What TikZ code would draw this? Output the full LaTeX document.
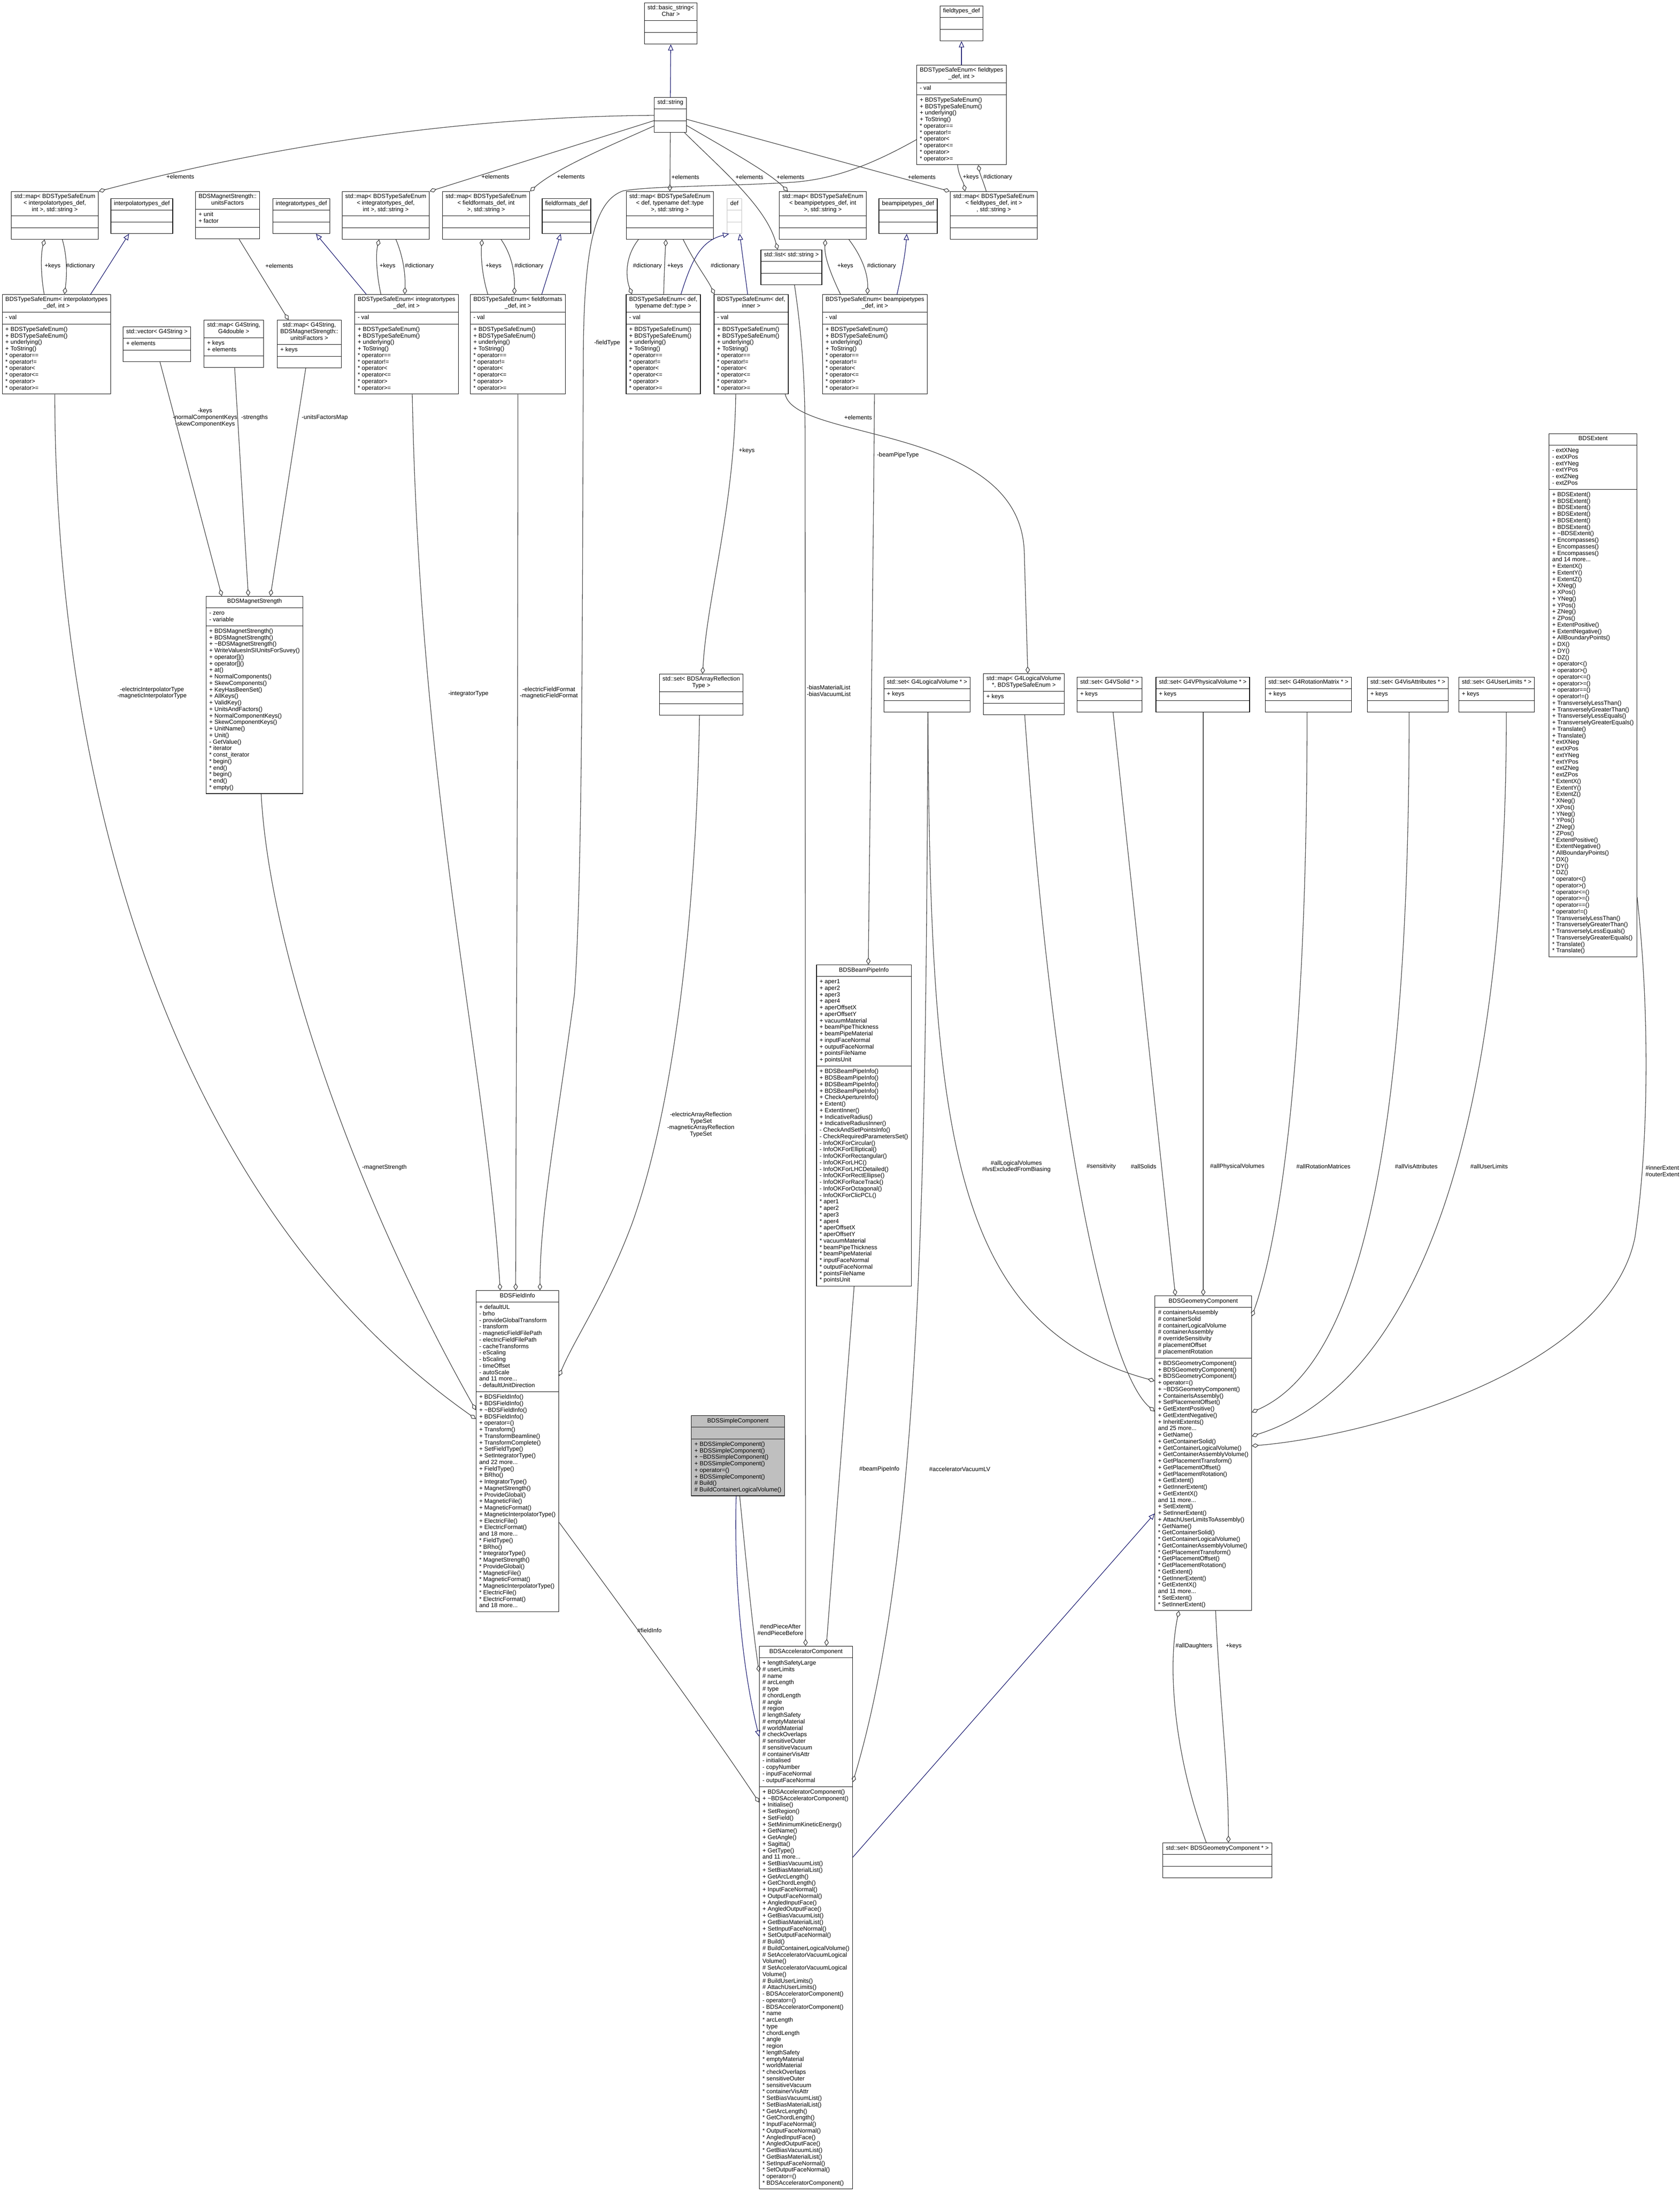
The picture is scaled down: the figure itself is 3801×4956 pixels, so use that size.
\documentclass[tikz,border=0pt]{standalone}
\usepackage{fontspec}
\setmainfont{Liberation Sans}
\usetikzlibrary{arrows.meta}
\definecolor{edgec}{HTML}{404040}
\definecolor{inhc}{HTML}{191970}
\definecolor{boxgrey}{HTML}{BFBFBF}
\newcommand{\clsf}{\fontsize{13.5}{14.75}\selectfont}
\newcommand{\ctab}[1]{\begin{tabular}{@{}c@{}}#1\strut\end{tabular}}
\newcommand{\ltab}[1]{\begin{tabular}{@{}l@{}}#1\strut\end{tabular}}
\newcommand{\rulecol}{black}
\newcommand{\secrule}{\noalign{\vskip5pt{\color{\rulecol}\hrule height 1.3pt}\vskip5pt}}
\newcommand{\mkclass}[6][]{\node[clsbox,#1] (#2) at (#3) {\begin{tabular}{@{\hspace{7pt}}l@{\hspace{7pt}}}\noalign{\vskip5pt}\multicolumn{1}{@{\hspace{7pt}}c@{\hspace{7pt}}}{\ctab{#4}}\\\secrule\ltab{#5}\\\secrule\ltab{#6}\\\noalign{\vskip5pt}\end{tabular}};}
\newcommand{\tsemeth}{+ BDSTypeSafeEnum()\\+ BDSTypeSafeEnum()\\+ underlying()\\+ ToString()\\{*} operator==\\{*} operator!=\\{*} operator<\\{*} operator<=\\{*} operator>\\{*} operator>=}
\tikzset{
  clsbox/.style={rectangle, draw=black, line width=1.3pt, fill=white, inner sep=0pt,
    anchor=north, font=\clsf},
  edg/.style={draw=edgec, line width=1.3pt},
  agg/.style={edg, -{Diamond[open, length=16pt, width=10pt]}},
  inh/.style={draw=inhc, line width=1.3pt, -{Triangle[open, length=14pt, width=12pt]}},
  lbl/.style={font=\clsf, inner sep=0pt, align=center},
  lbll/.style={font=\clsf, inner sep=0pt, align=left, anchor=west},
}
\begin{document}
\begin{tikzpicture}[x=1pt,y=-1pt]
\fill[white] (0,0) rectangle (3801,4956);
\useasboundingbox (0,0) rectangle (3801,4956);

% ---------- classes ----------
\mkclass{bstring}{1518,6}{std::basic\_string<\\ Char >}{}{}
\mkclass{ftdef}{2176,13}{fieldtypes\_def}{}{}
\mkclass{string}{1517,220}{std::string}{}{}
\mkclass{tseft}{2176,147}{BDSTypeSafeEnum< fieldtypes\\\_def, int >}{- val}{\tsemeth}

\mkclass{mapinterp}{124,433}{std::map< BDSTypeSafeEnum\\< interpolatortypes\_def,\\ int >, std::string >}{}{}
\mkclass{interpdef}{321,449}{interpolatortypes\_def}{}{}
\mkclass{uf}{515,433}{BDSMagnetStrength::\\unitsFactors}{+ unit\\+ factor}{}
\mkclass{integdef}{682,449}{integratortypes\_def}{}{}
\mkclass{mapinteg}{873,433}{std::map< BDSTypeSafeEnum\\< integratortypes\_def,\\ int >, std::string >}{}{}
\mkclass{mapff}{1100,433}{std::map< BDSTypeSafeEnum\\< fieldformats\_def, int\\ >, std::string >}{}{}
\mkclass{ffdef}{1282,449}{fieldformats\_def}{}{}
\mkclass{mapdef}{1516,433}{std::map< BDSTypeSafeEnum\\< def, typename def::type\\ >, std::string >}{}{}
\renewcommand{\rulecol}{boxgrey}
\mkclass[draw=boxgrey]{def}{1662,449}{def}{}{}
\renewcommand{\rulecol}{black}
\mkclass{mapbp}{1862,433}{std::map< BDSTypeSafeEnum\\< beampipetypes\_def, int\\ >, std::string >}{}{}
\mkclass{bpdef}{2055,449}{beampipetypes\_def}{}{}
\mkclass{mapft}{2249,433}{std::map< BDSTypeSafeEnum\\< fieldtypes\_def, int >\\, std::string >}{}{}
\mkclass{list}{1791,565}{std::list< std::string >}{}{}

\mkclass{tseinterp}{128,666}{BDSTypeSafeEnum< interpolatortypes\\\_def, int >}{- val}{\tsemeth}
\mkclass{vec}{355,739}{std::vector< G4String >}{+ elements}{}
\mkclass{mapgd}{529,724}{std::map< G4String,\\G4double >}{+ keys\\+ elements}{}
\mkclass{mapuf}{700,724}{std::map< G4String,\\BDSMagnetStrength::\\unitsFactors >}{+ keys}{}
\mkclass{tseinteg}{920,666}{BDSTypeSafeEnum< integratortypes\\\_def, int >}{- val}{\tsemeth}
\mkclass{tseff}{1172,666}{BDSTypeSafeEnum< fieldformats\\\_def, int >}{- val}{\tsemeth}
\mkclass{tsedt}{1501,666}{BDSTypeSafeEnum< def,\\typename def::type >}{- val}{\tsemeth}
\mkclass{tsedi}{1700,666}{BDSTypeSafeEnum< def,\\inner >}{- val}{\tsemeth}
\mkclass{tsebp}{1980,666}{BDSTypeSafeEnum< beampipetypes\\\_def, int >}{- val}{\tsemeth}

\mkclass{mag}{576,1349}{BDSMagnetStrength}{- zero\\- variable}{+ BDSMagnetStrength()\\+ BDSMagnetStrength()\\+ \textasciitilde BDSMagnetStrength()\\+ WriteValuesInSIUnitsForSuvey()\\+ operator[]()\\+ operator[]()\\+ at()\\+ NormalComponents()\\+ SkewComponents()\\+ KeyHasBeenSet()\\+ AllKeys()\\+ ValidKey()\\+ UnitsAndFactors()\\+ NormalComponentKeys()\\+ SkewComponentKeys()\\+ UnitName()\\+ Unit()\\- GetValue()\\{*} iterator\\{*} const\_iterator\\{*} begin()\\{*} end()\\{*} begin()\\{*} end()\\{*} empty()}

\mkclass{setarr}{1587,1525}{std::set< BDSArrayReflection\\Type >}{}{}
\mkclass{setlv}{2098,1532}{std::set< G4LogicalVolume * >}{+ keys}{}
\mkclass{maplv}{2317,1524}{std::map< G4LogicalVolume\\{*}, BDSTypeSafeEnum >}{+ keys}{}
\mkclass{setsolid}{2511,1532}{std::set< G4VSolid * >}{+ keys}{}
\mkclass{setpv}{2722,1532}{std::set< G4VPhysicalVolume * >}{+ keys}{}
\mkclass{setrot}{2961,1532}{std::set< G4RotationMatrix * >}{+ keys}{}
\mkclass{setvis}{3186,1532}{std::set< G4VisAttributes * >}{+ keys}{}
\mkclass{setul}{3387,1532}{std::set< G4UserLimits * >}{+ keys}{}

\mkclass{extent}{3605,981}{BDSExtent}{- extXNeg\\- extXPos\\- extYNeg\\- extYPos\\- extZNeg\\- extZPos}{+ BDSExtent()\\+ BDSExtent()\\+ BDSExtent()\\+ BDSExtent()\\+ BDSExtent()\\+ BDSExtent()\\+ \textasciitilde BDSExtent()\\+ Encompasses()\\+ Encompasses()\\+ Encompasses()\\and 14 more...\\+ ExtentX()\\+ ExtentY()\\+ ExtentZ()\\+ XNeg()\\+ XPos()\\+ YNeg()\\+ YPos()\\+ ZNeg()\\+ ZPos()\\+ ExtentPositive()\\+ ExtentNegative()\\+ AllBoundaryPoints()\\+ DX()\\+ DY()\\+ DZ()\\+ operator<()\\+ operator>()\\+ operator<=()\\+ operator>=()\\+ operator==()\\+ operator!=()\\+ TransverselyLessThan()\\+ TransverselyGreaterThan()\\+ TransverselyLessEquals()\\+ TransverselyGreaterEquals()\\+ Translate()\\+ Translate()\\{*} extXNeg\\{*} extXPos\\{*} extYNeg\\{*} extYPos\\{*} extZNeg\\{*} extZPos\\{*} ExtentX()\\{*} ExtentY()\\{*} ExtentZ()\\{*} XNeg()\\{*} XPos()\\{*} YNeg()\\{*} YPos()\\{*} ZNeg()\\{*} ZPos()\\{*} ExtentPositive()\\{*} ExtentNegative()\\{*} AllBoundaryPoints()\\{*} DX()\\{*} DY()\\{*} DZ()\\{*} operator<()\\{*} operator>()\\{*} operator<=()\\{*} operator>=()\\{*} operator==()\\{*} operator!=()\\{*} TransverselyLessThan()\\{*} TransverselyGreaterThan()\\{*} TransverselyLessEquals()\\{*} TransverselyGreaterEquals()\\{*} Translate()\\{*} Translate()}

\mkclass{bpinfo}{1955,2183}{BDSBeamPipeInfo}{+ aper1\\+ aper2\\+ aper3\\+ aper4\\+ aperOffsetX\\+ aperOffsetY\\+ vacuumMaterial\\+ beamPipeThickness\\+ beamPipeMaterial\\+ inputFaceNormal\\+ outputFaceNormal\\+ pointsFileName\\+ pointsUnit}{+ BDSBeamPipeInfo()\\+ BDSBeamPipeInfo()\\+ BDSBeamPipeInfo()\\+ BDSBeamPipeInfo()\\+ CheckApertureInfo()\\+ Extent()\\+ ExtentInner()\\+ IndicativeRadius()\\+ IndicativeRadiusInner()\\- CheckAndSetPointsInfo()\\- CheckRequiredParametersSet()\\- InfoOKForCircular()\\- InfoOKForElliptical()\\- InfoOKForRectangular()\\- InfoOKForLHC()\\- InfoOKForLHCDetailed()\\- InfoOKForRectEllipse()\\- InfoOKForRaceTrack()\\- InfoOKForOctagonal()\\- InfoOKForClicPCL()\\{*} aper1\\{*} aper2\\{*} aper3\\{*} aper4\\{*} aperOffsetX\\{*} aperOffsetY\\{*} vacuumMaterial\\{*} beamPipeThickness\\{*} beamPipeMaterial\\{*} inputFaceNormal\\{*} outputFaceNormal\\{*} pointsFileName\\{*} pointsUnit}

\mkclass{fieldinfo}{1171,2920}{BDSFieldInfo}{+ defaultUL\\- brho\\- provideGlobalTransform\\- transform\\- magneticFieldFilePath\\- electricFieldFilePath\\- cacheTransforms\\- eScaling\\- bScaling\\- timeOffset\\- autoScale\\and 11 more...\\- defaultUnitDirection}{+ BDSFieldInfo()\\+ BDSFieldInfo()\\+ \textasciitilde BDSFieldInfo()\\+ BDSFieldInfo()\\+ operator=()\\+ Transform()\\+ TransformBeamline()\\+ TransformComplete()\\+ SetFieldType()\\+ SetIntegratorType()\\and 22 more...\\+ FieldType()\\+ BRho()\\+ IntegratorType()\\+ MagnetStrength()\\+ ProvideGlobal()\\+ MagneticFile()\\+ MagneticFormat()\\+ MagneticInterpolatorType()\\+ ElectricFile()\\+ ElectricFormat()\\and 18 more...\\{*} FieldType()\\{*} BRho()\\{*} IntegratorType()\\{*} MagnetStrength()\\{*} ProvideGlobal()\\{*} MagneticFile()\\{*} MagneticFormat()\\{*} MagneticInterpolatorType()\\{*} ElectricFile()\\{*} ElectricFormat()\\and 18 more...}

\mkclass[fill=boxgrey]{simple}{1670,3203}{BDSSimpleComponent}{}{+ BDSSimpleComponent()\\+ BDSSimpleComponent()\\+ \textasciitilde BDSSimpleComponent()\\+ BDSSimpleComponent()\\+ operator=()\\+ BDSSimpleComponent()\\\# Build()\\\# BuildContainerLogicalVolume()}

\mkclass{geom}{2723,2932}{BDSGeometryComponent}{\# containerIsAssembly\\\# containerSolid\\\# containerLogicalVolume\\\# containerAssembly\\\# overrideSensitivity\\\# placementOffset\\\# placementRotation}{+ BDSGeometryComponent()\\+ BDSGeometryComponent()\\+ BDSGeometryComponent()\\+ operator=()\\+ \textasciitilde BDSGeometryComponent()\\+ ContainerIsAssembly()\\+ SetPlacementOffset()\\+ GetExtentPositive()\\+ GetExtentNegative()\\+ InheritExtents()\\and 25 more...\\+ GetName()\\+ GetContainerSolid()\\+ GetContainerLogicalVolume()\\+ GetContainerAssemblyVolume()\\+ GetPlacementTransform()\\+ GetPlacementOffset()\\+ GetPlacementRotation()\\+ GetExtent()\\+ GetInnerExtent()\\+ GetExtentX()\\and 11 more...\\+ SetExtent()\\+ SetInnerExtent()\\+ AttachUserLimitsToAssembly()\\{*} GetName()\\{*} GetContainerSolid()\\{*} GetContainerLogicalVolume()\\{*} GetContainerAssemblyVolume()\\{*} GetPlacementTransform()\\{*} GetPlacementOffset()\\{*} GetPlacementRotation()\\{*} GetExtent()\\{*} GetInnerExtent()\\{*} GetExtentX()\\and 11 more...\\{*} SetExtent()\\{*} SetInnerExtent()}

\mkclass{accel}{1824,3725}{BDSAcceleratorComponent}{+ lengthSafetyLarge\\\# userLimits\\\# name\\\# arcLength\\\# type\\\# chordLength\\\# angle\\\# region\\\# lengthSafety\\\# emptyMaterial\\\# worldMaterial\\\# checkOverlaps\\\# sensitiveOuter\\\# sensitiveVacuum\\\# containerVisAttr\\- initialised\\- copyNumber\\- inputFaceNormal\\- outputFaceNormal}{+ BDSAcceleratorComponent()\\+ \textasciitilde BDSAcceleratorComponent()\\+ Initialise()\\+ SetRegion()\\+ SetField()\\+ SetMinimumKineticEnergy()\\+ GetName()\\+ GetAngle()\\+ Sagitta()\\+ GetType()\\and 11 more...\\+ SetBiasVacuumList()\\+ SetBiasMaterialList()\\+ GetArcLength()\\+ GetChordLength()\\+ InputFaceNormal()\\+ OutputFaceNormal()\\+ AngledInputFace()\\+ AngledOutputFace()\\+ GetBiasVacuumList()\\+ GetBiasMaterialList()\\+ SetInputFaceNormal()\\+ SetOutputFaceNormal()\\\# Build()\\\# BuildContainerLogicalVolume()\\\# SetAcceleratorVacuumLogical\\Volume()\\\# SetAcceleratorVacuumLogical\\Volume()\\\# BuildUserLimits()\\\# AttachUserLimits()\\- BDSAcceleratorComponent()\\- operator=()\\- BDSAcceleratorComponent()\\{*} name\\{*} arcLength\\{*} type\\{*} chordLength\\{*} angle\\{*} region\\{*} lengthSafety\\{*} emptyMaterial\\{*} worldMaterial\\{*} checkOverlaps\\{*} sensitiveOuter\\{*} sensitiveVacuum\\{*} containerVisAttr\\{*} SetBiasVacuumList()\\{*} SetBiasMaterialList()\\{*} GetArcLength()\\{*} GetChordLength()\\{*} InputFaceNormal()\\{*} OutputFaceNormal()\\{*} AngledInputFace()\\{*} AngledOutputFace()\\{*} GetBiasVacuumList()\\{*} GetBiasMaterialList()\\{*} SetInputFaceNormal()\\{*} SetOutputFaceNormal()\\{*} operator=()\\{*} BDSAcceleratorComponent()}

\mkclass{setgeom}{2755,4170}{std::set< BDSGeometryComponent * >}{}{}

% ---------- inheritance ----------
\draw[inh] (string.north) -- (bstring.south);
\draw[inh] (tseft.north) -- (ftdef.south);
\draw[inh] (205,0 |- tseinterp.north) -- (292,0 |- interpdef.south);
\draw[inh] (829,0 |- tseinteg.north) -- (715,0 |- integdef.south);
\draw[inh] (1226,0 |- tseff.north) -- (1269,0 |- ffdef.south);
\draw[inh] (1541,0 |- tsedt.north) .. controls (1565,590) and (1585,545) .. (1650,0 |- def.south);
\draw[inh] (1692,0 |- tsedi.north) -- (1674,0 |- def.south);
\draw[inh] (2030,0 |- tsebp.north) .. controls (2045,600) and (2050,560) .. (2052,0 |- bpdef.south);
\draw[inh] (1666,0 |- simple.south) .. controls (1660,3600) and (1685,3800) .. (accel.west |- 0,3930);
\draw[inh] (accel.east |- 0,4203) -- (geom.west |- 0,3425);

% ---------- std::string usage ----------
\draw[agg] (string.west |- 0,261) .. controls (950,265) and (500,360) .. (mapinterp.north east);
\draw[agg] (string.west |- 0,273) -- (mapinteg.north east);
\draw[agg] (string.west |- 0,285) .. controls (1380,330) and (1260,380) .. (mapff.north east);
\draw[agg] (string.south) -- (mapdef.north);
\draw[agg] (1549,0 |- string.south) .. controls (1640,390) and (1735,470) .. (1760,0 |- list.north);
\draw[agg] (string.east |- 0,284) .. controls (1650,340) and (1740,390) .. (1783,0 |- mapbp.north);
\draw[agg] (string.east |- 0,270) -- (mapft.north west);

% ---------- keys / dictionary ----------
\draw[agg] (100,0 |- tseinterp.north) .. controls (92,620) and (92,575) .. (101,0 |- mapinterp.south);
\draw[agg] (141,0 |- mapinterp.south) .. controls (152,580) and (152,620) .. (146,0 |- tseinterp.north);
\draw[agg] (862,0 |- tseinteg.north) .. controls (852,620) and (850,575) .. (858,0 |- mapinteg.south);
\draw[agg] (896,0 |- mapinteg.south) .. controls (912,580) and (918,620) .. (916,0 |- tseinteg.north);
\draw[agg] (1104,0 |- tseff.north) .. controls (1090,620) and (1088,575) .. (1091,0 |- mapff.south);
\draw[agg] (1134,0 |- mapff.south) .. controls (1160,580) and (1165,620) .. (1164,0 |- tseff.north);
\draw[agg] (1502,0 |- tsedt.north) .. controls (1503,620) and (1505,575) .. (1507,0 |- mapdef.south);
\draw[agg] (1445,0 |- mapdef.south) .. controls (1415,580) and (1415,625) .. (1430,0 |- tsedt.north);
\draw[agg] (1546,0 |- mapdef.south) .. controls (1575,600) and (1600,630) .. (1617,0 |- tsedi.north);
\draw[agg] (1902,0 |- tsebp.north) .. controls (1880,620) and (1865,580) .. (1868,0 |- mapbp.south);
\draw[agg] (1921,0 |- mapbp.south) .. controls (1950,580) and (1965,620) .. (1963,0 |- tsebp.north);
\draw[agg] (2167,0 |- tseft.south) .. controls (2170,400) and (2180,410) .. (2184,0 |- mapft.north);
\draw[agg] (2232,0 |- mapft.north) .. controls (2225,410) and (2218,395) .. (2214,0 |- tseft.south);
\draw[agg] (541,0 |- uf.south) -- (653,0 |- mapuf.north);

% ---------- magnet strength ----------
\draw[agg] (362,0 |- vec.south) -- (502,0 |- mag.north);
\draw[agg] (531,0 |- mapgd.south) -- (562,0 |- mag.north);
\draw[agg] (692,0 |- mapuf.south) -- (612,0 |- mag.north);

% ---------- field info ----------
\draw[agg] (124,0 |- tseinterp.south) .. controls (125,1700) and (350,2700) .. (fieldinfo.west |- 0,3211);
\draw[agg] (591,0 |- mag.south) .. controls (610,2150) and (800,2700) .. (fieldinfo.west |- 0,3191);
\draw[agg] (933,0 |- tseinteg.south) .. controls (950,1800) and (1100,2400) .. (1132,0 |- fieldinfo.north);
\draw[agg] (1172,0 |- tseff.south) .. controls (1172,1800) and (1168,2400) .. (1167,0 |- fieldinfo.north);
\draw[agg] (tseft.west |- 0,316) .. controls (1960,380) and (1880,405) .. (1800,412) .. controls (1650,422) and (1480,420) .. (1410,432) .. controls (1345,455) and (1322,560) .. (1320,800) .. controls (1318,1400) and (1318,2000) .. (1300,2250) .. controls (1260,2550) and (1222,2750) .. (1222,0 |- fieldinfo.north);
\draw[agg] (1583,0 |- setarr.south) .. controls (1575,2100) and (1520,2520) .. (1430,2770) .. controls (1370,2930) and (1300,3030) .. (fieldinfo.east |- 0,3114);

% ---------- def,inner ----------
\draw[agg] (1665,0 |- tsedi.south) .. controls (1662,1150) and (1600,1350) .. (1590,0 |- setarr.north);
\draw[agg] (1777,0 |- tsedi.south) .. controls (1800,1000) and (2310,960) .. (2318,1250) -- (2326,0 |- maplv.north);

% ---------- accelerator component ----------
\draw[agg] (1798,0 |- list.south) .. controls (1815,760) and (1822,860) .. (1822,1000) -- (1823,0 |- accel.north);
\draw[agg] (1979,0 |- tsebp.south) .. controls (1975,1400) and (1968,1900) .. (1965,0 |- bpinfo.north);
\draw[agg] (1933,0 |- bpinfo.south) -- (1870,0 |- accel.north);
\draw[agg] (fieldinfo.east |- 0,3445) .. controls (1350,3560) and (1600,3900) .. (accel.west |- 0,4079);
\draw[agg] (1674,0 |- simple.south) .. controls (1690,3550) and (1705,3700) .. (accel.west |- 0,3784);
\draw[agg] (2100,0 |- setlv.south) .. controls (2095,2600) and (2090,3500) .. (accel.east |- 0,4033);

% ---------- geometry component ----------
\draw[agg] (2100,0 |- setlv.south) .. controls (2105,2550) and (2150,3000) .. (geom.west |- 0,3125);
\draw[agg] (2319,0 |- maplv.south) .. controls (2380,2500) and (2500,3100) .. (geom.west |- 0,3194);
\draw[agg] (2519,0 |- setsolid.south) -- (2660,0 |- geom.north);
\draw[agg] (2723,0 |- setpv.south) -- (2723,0 |- geom.north);
\draw[agg] (2958,0 |- setrot.south) .. controls (2958,2500) and (2880,2850) .. (geom.east |- 0,2979);
\draw[agg] (3189,0 |- setvis.south) .. controls (3189,2700) and (3050,3100) .. (geom.east |- 0,3196);
\draw[agg] (3409,0 |- setul.south) .. controls (3409,2700) and (3150,3150) .. (geom.east |- 0,3250);
\draw[agg] (extent.east |- 0,2030) .. controls (3735,2300) and (3730,2600) .. (3700,2800) .. controls (3640,3100) and (3100,3250) .. (geom.east |- 0,3272);
\draw[agg] (2730,0 |- setgeom.north) .. controls (2660,3980) and (2640,3780) .. (2668,0 |- geom.south);
\draw[agg] (2751,0 |- geom.south) .. controls (2760,3850) and (2780,4000) .. (2780,0 |- setgeom.north);

% ---------- labels ----------
\node[lbl] (l1) at (408,400) {+elements};
\node[lbl] (l2) at (1121,400) {+elements};
\node[lbl] (l3) at (1292,400) {+elements};
\node[lbl] (l4) at (1551,401) {+elements};
\node[lbl] (l5) at (1696,401) {+elements};
\node[lbl] (l6) at (1789,401) {+elements};
\node[lbl] (l7) at (2086,401) {+elements};
\node[lbl] (l8) at (2197,401) {+keys};
\node[lbl] (l9) at (2258,401) {\#dictionary};
\node[lbl] (l10) at (119,602) {+keys};
\node[lbl] (l11) at (182,602) {\#dictionary};
\node[lbl] (l12) at (632,602) {+elements};
\node[lbl] (l13) at (877,602) {+keys};
\node[lbl] (l14) at (949,602) {\#dictionary};
\node[lbl] (l15) at (1117,602) {+keys};
\node[lbl] (l16) at (1197,602) {\#dictionary};
\node[lbl] (l17) at (1465,602) {\#dictionary};
\node[lbl] (l18) at (1528,602) {+keys};
\node[lbl] (l19) at (1641,602) {\#dictionary};
\node[lbl] (l20) at (1913,602) {+keys};
\node[lbl] (l21) at (1995,602) {\#dictionary};
\node[lbl] (l22) at (1374,776) {-fieldType};
\node[lbl] (l23) at (344,1568) {-electricInterpolatorType\\-magneticInterpolatorType};
\node[lbl] (l24) at (464,945) {-keys\\-normalComponentKeys\\-skewComponentKeys};
\node[lbl] (l25) at (576,945) {-strengths};
\node[lbl] (l26) at (735,945) {-unitsFactorsMap};
\node[lbl] (l27) at (1060,1570) {-integratorType};
\node[lbl] (l28) at (1242,1568) {-electricFieldFormat\\-magneticFieldFormat};
\node[lbl] (l29) at (1690,1020) {+keys};
\node[lbl] (l30) at (1942,945) {+elements};
\node[lbl] (l31) at (2032,1030) {-beamPipeType};
\node[lbll] (l32) at (1826,1563) {-biasMaterialList\\-biasVacuumList};
\node[lbl] (l33) at (1586,2545) {-electricArrayReflection\\TypeSet\\-magneticArrayReflection\\TypeSet};
\node[lbl] (l34) at (870,2642) {-magnetStrength};
\node[lbl] (l35) at (2300,2640) {\#allLogicalVolumes\\\#lvsExcludedFromBiasing};
\node[lbl] (l36) at (2492,2640) {\#sensitivity};
\node[lbl] (l37) at (2588,2640) {\#allSolids};
\node[lbl] (l38) at (2800,2640) {\#allPhysicalVolumes};
\node[lbl] (l39) at (2995,2640) {\#allRotationMatrices};
\node[lbl] (l40) at (3205,2640) {\#allVisAttributes};
\node[lbl] (l41) at (3370,2640) {\#allUserLimits};
\node[lbl] (l42) at (3762,2650) {\#innerExtent\\\#outerExtent};
\node[lbl] (l43) at (1990,3325) {\#beamPipeInfo};
\node[lbl] (l44) at (2172,3325) {\#acceleratorVacuumLV};
\node[lbl] (l45) at (1470,3690) {\#fieldInfo};
\node[lbl] (l46) at (1766,3688) {\#endPieceAfter\\\#endPieceBefore};
\node[lbl] (l47) at (2702,3725) {\#allDaughters};
\node[lbl] (l48) at (2792,3725) {+keys};
\end{tikzpicture}
\end{document}
